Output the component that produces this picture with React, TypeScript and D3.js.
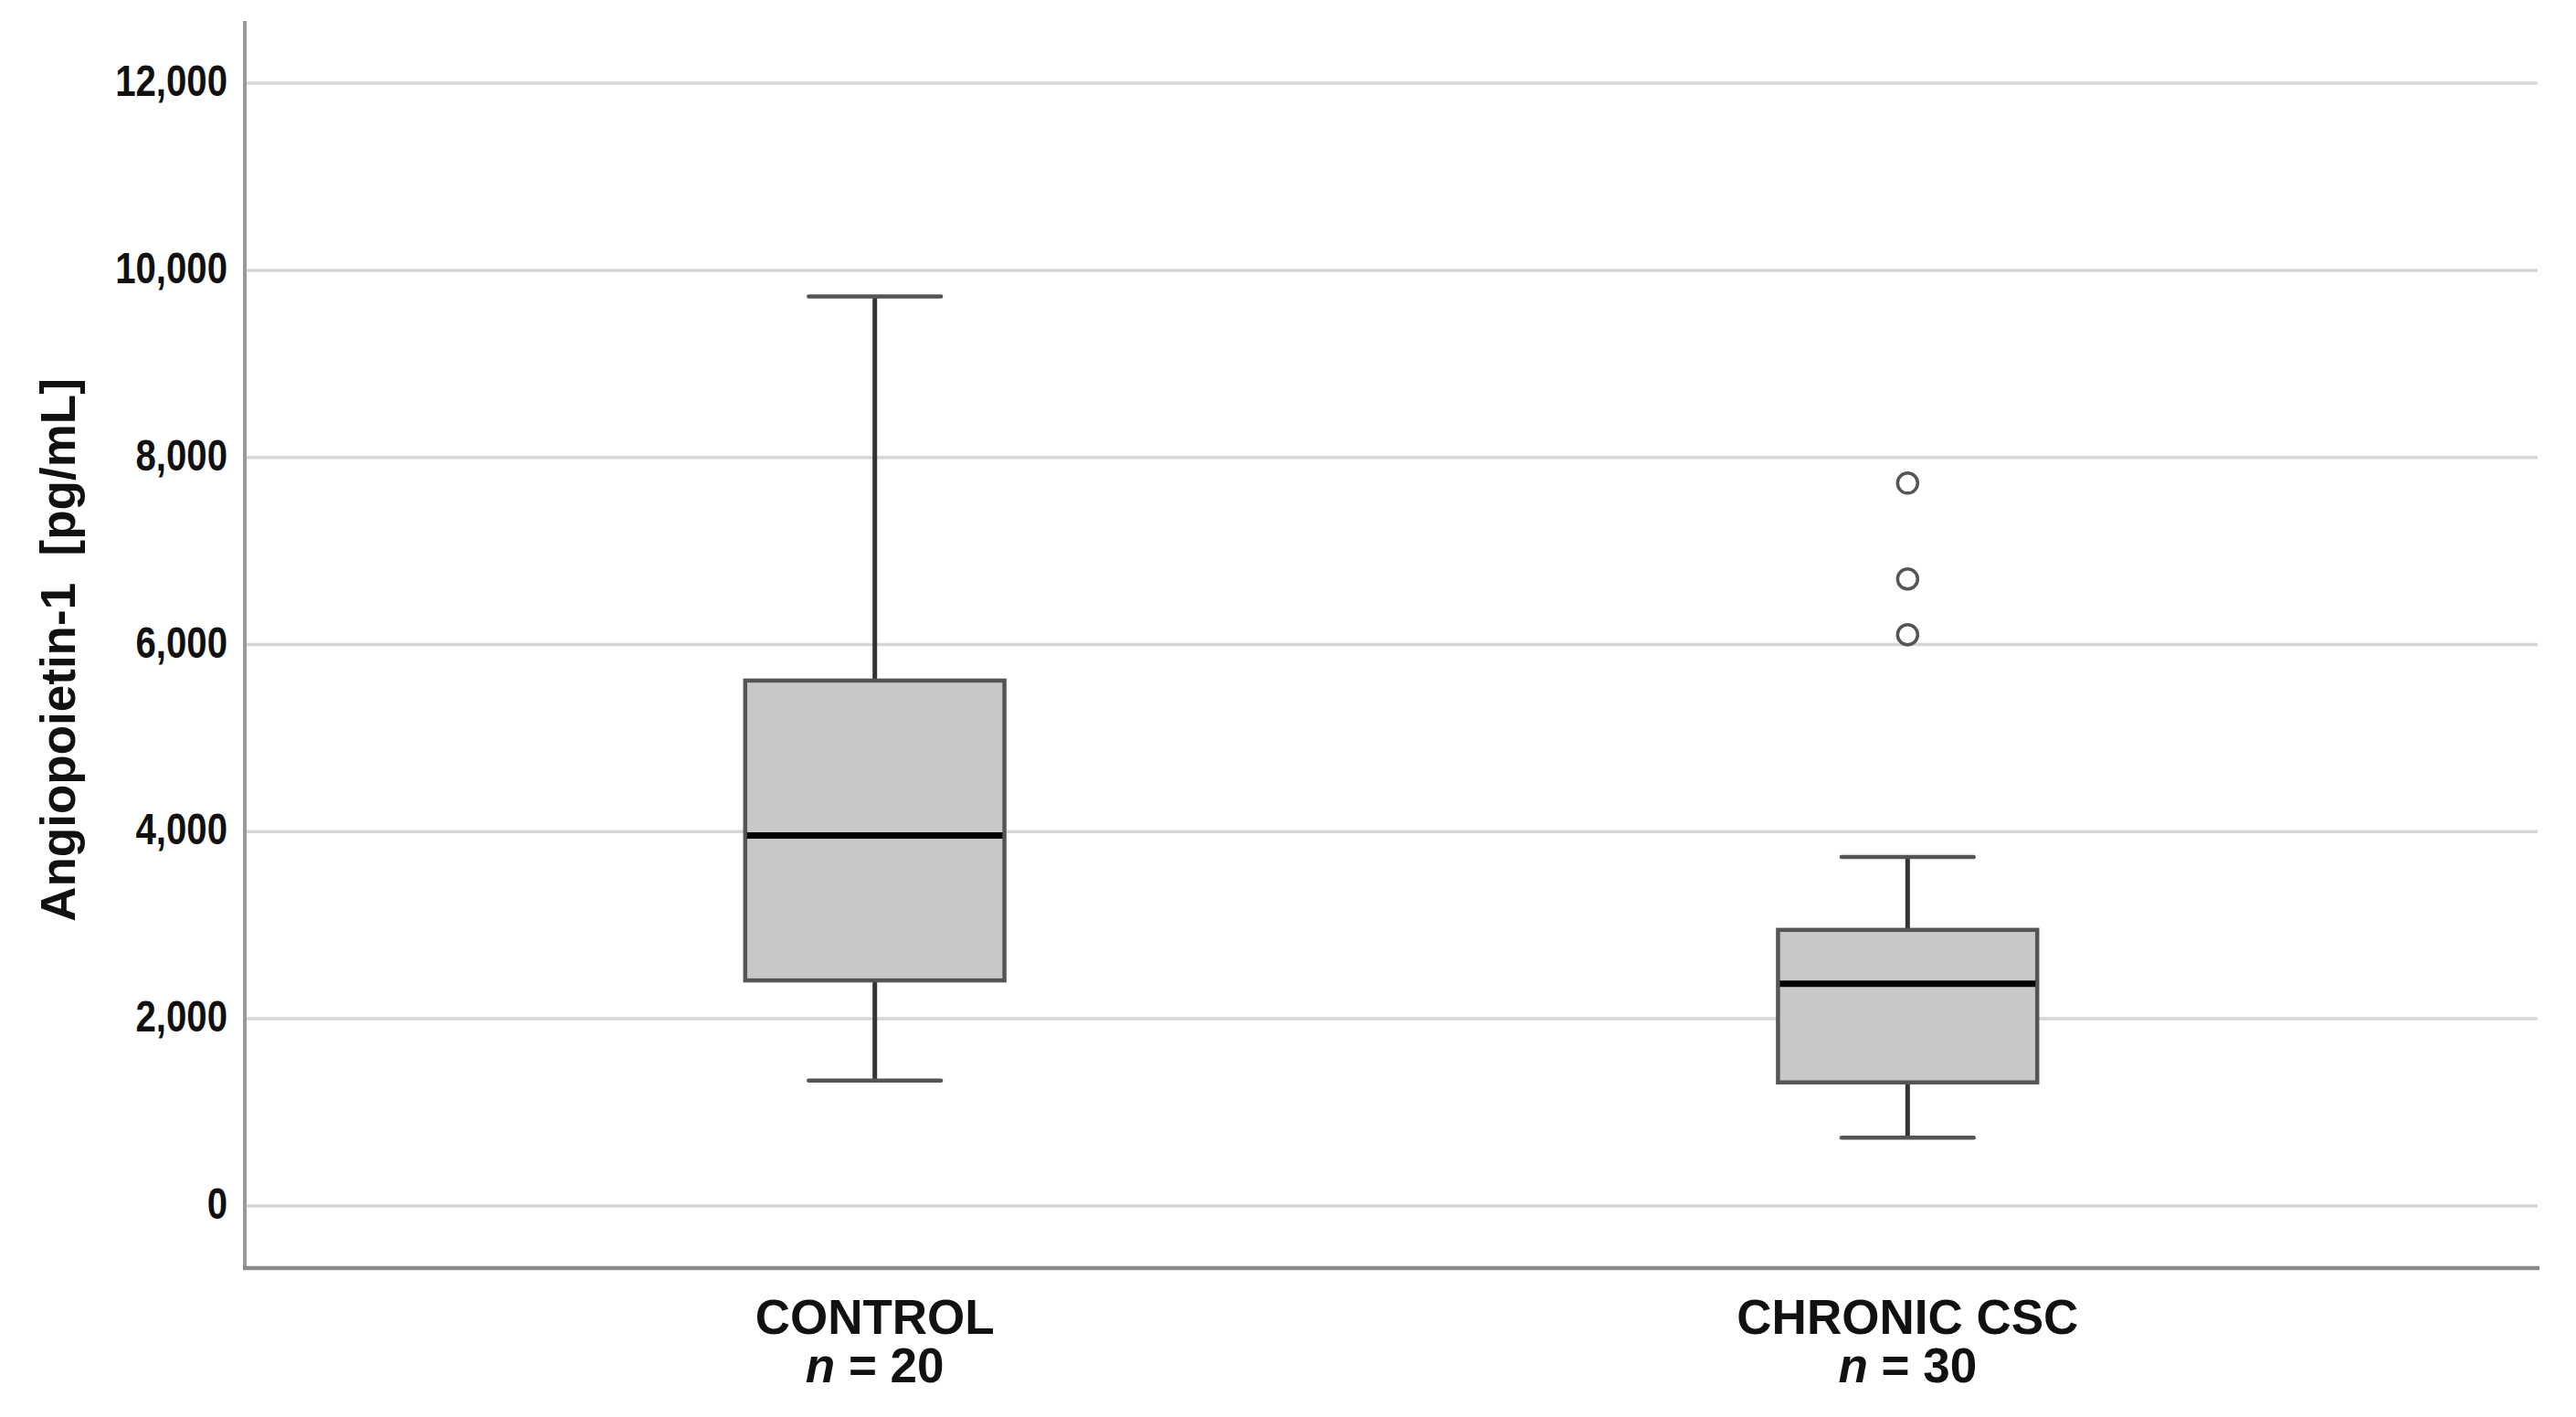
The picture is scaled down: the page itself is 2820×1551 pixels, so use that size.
import React, { useEffect, useRef } from "react";
import * as d3 from "d3";

const categories = ["CONTROL", "CHRONIC CSC"];
const sampleSizes = [20, 30];
const whiskerLow = [1340, 730];
const q1 = [2410, 1320];
const median = [3960, 2375];
const q3 = [5615, 2950];
const whiskerHigh = [9720, 3730];
const outliers: number[][] = [[], [7725, 6700, 6105]];
const yTicks = [0, 2000, 4000, 6000, 8000, 10000, 12000];
const yTitle = "Angiopoietin-1  [pg/mL]";

const W = 2820;
const H = 1551;

export default function App() {
  const ref = useRef<SVGSVGElement | null>(null);

  useEffect(() => {
    document.body.style.margin = "0";
    const svg = d3.select(ref.current);
    svg.selectAll("*").remove();

    const left = 268;
    const right = 2778;
    const top = 23;
    const bottom = 1388;

    const y = d3.scaleLinear().domain([-665, 12665]).range([bottom, top]);
    const x = d3.scalePoint<string>().domain(categories).range([left, right]).padding(0.61);
    const step = x.step();
    const boxW = step * 0.251;
    const capW = boxW * 0.51;
    const font = "'Liberation Sans', Arial, sans-serif";

    svg.append("rect").attr("width", W).attr("height", H).attr("fill", "#ffffff");

    // gridlines
    svg
      .append("g")
      .selectAll("line")
      .data(yTicks)
      .join("line")
      .attr("x1", left)
      .attr("x2", right)
      .attr("y1", (d) => y(d))
      .attr("y2", (d) => y(d))
      .attr("stroke", "#d6d6d6")
      .attr("stroke-width", 3.5);

    // tick labels
    const fmt = d3.format(",");
    svg
      .append("g")
      .selectAll("text")
      .data(yTicks)
      .join("text")
      .attr("transform", (d) => `translate(${left - 19},${y(d) + 14}) scale(0.82,1)`)
      .attr("text-anchor", "end")
      .attr("font-family", font)
      .attr("font-weight", "bold")
      .attr("font-size", 49)
      .attr("fill", "#111")
      .text((d) => fmt(d));

    // axes
    svg
      .append("line")
      .attr("x1", left)
      .attr("x2", left)
      .attr("y1", top)
      .attr("y2", bottom)
      .attr("stroke", "#9a9a9a")
      .attr("stroke-width", 4);
    svg
      .append("line")
      .attr("x1", left - 2)
      .attr("x2", right + 2)
      .attr("y1", bottom)
      .attr("y2", bottom)
      .attr("stroke", "#8a8a8a")
      .attr("stroke-width", 4.5);

    // boxes
    const g = svg.append("g");
    categories.forEach((c, i) => {
      const cx = x(c)!;
      // whiskers
      g.append("line")
        .attr("x1", cx).attr("x2", cx)
        .attr("y1", y(whiskerHigh[i])).attr("y2", y(q3[i]))
        .attr("stroke", "#333").attr("stroke-width", 5);
      g.append("line")
        .attr("x1", cx).attr("x2", cx)
        .attr("y1", y(q1[i])).attr("y2", y(whiskerLow[i]))
        .attr("stroke", "#333").attr("stroke-width", 5);
      [whiskerHigh[i], whiskerLow[i]].forEach((v) => {
        g.append("line")
          .attr("x1", cx - capW / 2).attr("x2", cx + capW / 2)
          .attr("y1", y(v)).attr("y2", y(v))
          .attr("stroke", "#555").attr("stroke-width", 4.5)
          .attr("stroke-linecap", "round");
      });
      g.append("rect")
        .attr("x", cx - boxW / 2)
        .attr("y", y(q3[i]))
        .attr("width", boxW)
        .attr("height", y(q1[i]) - y(q3[i]))
        .attr("fill", "#c8c8c8")
        .attr("stroke", "#555")
        .attr("stroke-width", 4.5);
      g.append("line")
        .attr("x1", cx - boxW / 2 + 2).attr("x2", cx + boxW / 2 - 2)
        .attr("y1", y(median[i])).attr("y2", y(median[i]))
        .attr("stroke", "#000").attr("stroke-width", 7);
      outliers[i].forEach((v) => {
        g.append("circle")
          .attr("cx", cx).attr("cy", y(v)).attr("r", 11)
          .attr("fill", "#fff").attr("stroke", "#555").attr("stroke-width", 3.5);
      });

      // category labels
      g.append("text")
        .attr("x", cx).attr("y", 1460)
        .attr("text-anchor", "middle")
        .attr("font-family", font).attr("font-weight", "bold").attr("font-size", 53)
        .attr("fill", "#111")
        .text(c);
      const t = g.append("text")
        .attr("x", cx).attr("y", 1513)
        .attr("text-anchor", "middle")
        .attr("font-family", font).attr("font-weight", "bold").attr("font-size", 53)
        .attr("fill", "#111")
        .style("white-space", "pre");
      t.append("tspan").attr("font-style", "italic").text("n");
      t.append("tspan").text(` = ${sampleSizes[i]}`);
    });

    // y title
    svg
      .append("text")
      .attr("transform", `translate(82,${(top + bottom) / 2 + 6}) rotate(-90)`)
      .attr("text-anchor", "middle")
      .attr("font-family", font)
      .attr("font-weight", "bold")
      .attr("font-size", 53)
      .attr("fill", "#111")
      .style("white-space", "pre")
      .text(yTitle);
  }, []);

  return <svg ref={ref} width={W} height={H} style={{ display: "block" }} />;
}
